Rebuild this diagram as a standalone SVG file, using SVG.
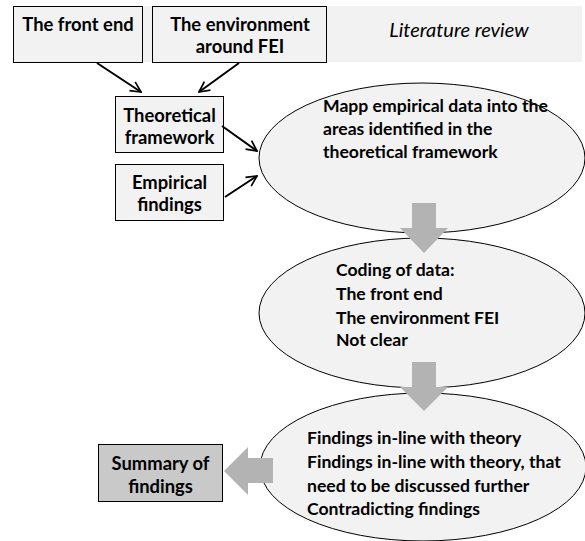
<svg xmlns="http://www.w3.org/2000/svg" width="585" height="541" viewBox="0 0 585 541">
  <style>
    .box { fill: #f2f2f2; stroke: #000; stroke-width: 1; }
    .sum { fill: #c9c9c9; stroke: #000; stroke-width: 1; }
    .ell { fill: #f2f2f2; stroke: #000; stroke-width: 1; }
    .t { font-family: Lato, "Liberation Sans", sans-serif; font-weight: bold; font-size: 18.4px; fill: #000; }
    .c { text-anchor: middle; }
    .e { font-family: Lato, "Liberation Sans", sans-serif; font-weight: bold; font-size: 17.6px; fill: #000; }
    .it { font-family: Lato, "Liberation Sans", sans-serif; font-style: italic; font-size: 20px; fill: #000; text-anchor: middle; }
    .ln { stroke: #000; stroke-width: 2; fill: none; marker-end: url(#head); }
    .blk { fill: #b3b3b3; stroke: none; }
  </style>
  <defs>
    <marker id="head" viewBox="0 0 10 10" refX="9" refY="5" markerWidth="6.5" markerHeight="6.5" orient="auto" markerUnits="strokeWidth">
      <path d="M1,1 L9,5 L1,9" fill="none" stroke="#000" stroke-width="1.3"/>
    </marker>
  </defs>

  <!-- literature review band -->
  <rect x="13" y="6" width="569" height="56" fill="#f2f2f2"/>

  <g id="front-end">
    <rect class="box" x="13.5" y="6.5" width="129" height="56"/>
    <text class="t c" x="78" y="31">The front end</text>
  </g>
  <g id="environment">
    <rect class="box" x="152.5" y="6.5" width="174" height="56"/>
    <text class="t c" x="240" y="31">The environment</text>
    <text class="t c" x="240" y="53">around FEI</text>
  </g>
  <g id="literature-review">
    <text class="it" x="459" y="37">Literature review</text>
  </g>
  <g id="theoretical-framework">
    <rect class="box" x="115.5" y="96.5" width="108" height="56"/>
    <text class="t c" x="169.5" y="122">Theoretical</text>
    <text class="t c" x="169.5" y="144">framework</text>
  </g>
  <g id="empirical-findings">
    <rect class="box" x="115.5" y="164.5" width="108" height="56"/>
    <text class="t c" x="169.5" y="189">Empirical</text>
    <text class="t c" x="169.5" y="211">findings</text>
  </g>

  <g id="mapping">
    <ellipse class="ell" cx="422" cy="158" rx="163" ry="75"/>
    <text class="e" x="323" y="112">Mapp empirical data into the</text>
    <text class="e" x="323" y="135">areas identified in the</text>
    <text class="e" x="323" y="158">theoretical framework</text>
  </g>
  <g id="coding">
    <ellipse class="ell" cx="422" cy="313" rx="163" ry="75"/>
    <text class="e" x="336" y="276">Coding of data:</text>
    <text class="e" x="336" y="300">The front end</text>
    <text class="e" x="336" y="324">The environment FEI</text>
    <text class="e" x="336" y="346">Not clear</text>
  </g>
  <g id="findings">
    <ellipse class="ell" cx="423" cy="467" rx="163" ry="74"/>
    <text class="e" x="307" y="444">Findings in-line with theory</text>
    <text class="e" x="307" y="468">Findings in-line with theory, that</text>
    <text class="e" x="307" y="492">need to be discussed further</text>
    <text class="e" x="307" y="515">Contradicting findings</text>
  </g>
  <g id="summary">
    <rect class="sum" x="98.5" y="444.5" width="124" height="57"/>
    <text class="t c" x="160.5" y="470">Summary of</text>
    <text class="t c" x="160.5" y="493">findings</text>
  </g>

  <g id="connectors">
    <line class="ln" x1="97" y1="63" x2="141" y2="92"/>
    <line class="ln" x1="239" y1="63" x2="199" y2="92"/>
    <line class="ln" x1="222" y1="126" x2="257" y2="151"/>
    <line class="ln" x1="225" y1="197" x2="257" y2="176"/>
    <polygon class="blk" points="412,203 436,203 436,228 448,228 424,253 400,228 412,228"/>
    <polygon class="blk" points="412,362 436,362 436,387 448,387 424,411 400,387 412,387"/>
    <polygon class="blk" points="273,458 273,483 248,483 248,495 224,471 248,447 248,458"/>
  </g>
</svg>
